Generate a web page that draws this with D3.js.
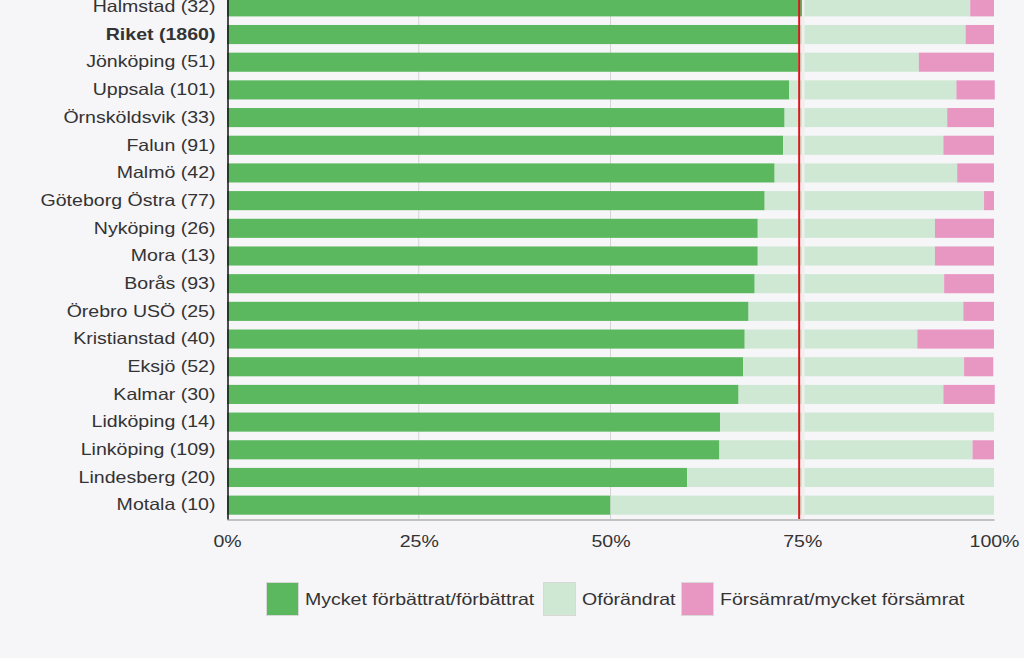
<!DOCTYPE html>
<html>
<head>
<meta charset="utf-8">
<script src="https://cdn.jsdelivr.net/npm/d3@7"></script>
<style>
  html, body { margin: 0; padding: 0; background: #f6f5f8; overflow: hidden; }
  svg { display: block; font-family: "Liberation Sans", Arial, sans-serif; }
</style>
</head>
<body>
<svg id="chart" width="1024" height="658"></svg>
<script>
const categories = ["Halmstad (32)", "Riket (1860)", "Jönköping (51)", "Uppsala (101)", "Örnsköldsvik (33)",
  "Falun (91)", "Malmö (42)", "Göteborg Östra (77)", "Nyköping (26)", "Mora (13)", "Borås (93)",
  "Örebro USÖ (25)", "Kristianstad (40)", "Eksjö (52)", "Kalmar (30)", "Lidköping (14)",
  "Linköping (109)", "Lindesberg (20)", "Motala (10)"];
const improved  = [75.0, 74.6, 74.5, 73.3, 72.7, 72.5, 71.4, 70.1, 69.2, 69.2, 68.8, 68.0, 67.5, 67.3, 66.7, 64.3, 64.2, 60.0, 50.0];
const unchanged = [21.9, 21.7, 15.7, 21.8, 21.2, 20.9, 23.8, 28.6, 23.1, 23.1, 24.7, 28.0, 22.5, 28.8, 26.7, 35.7, 33.0, 40.0, 50.0];
const worsened  = [3.1, 3.7, 9.8, 5.0, 6.1, 6.6, 4.8, 1.3, 7.7, 7.7, 6.5, 4.0, 10.0, 3.8, 6.7, 0.0, 2.8, 0.0, 0.0];
const seriesNames = ["Mycket förbättrat/förbättrat", "Oförändrat", "Försämrat/mycket försämrat"];
const seriesColors = ["#5cb85f", "#cfe8d4", "#e897c3"];
const boldCategory = "Riket (1860)";
const referenceValue = 74.6;
const tickValues = [0, 25, 50, 75, 100];

const FONT = 16.5, WIDEN = 1.185;
function widen(sel) {
  sel.each(function() {
    const len = this.getComputedTextLength();
    d3.select(this).attr("textLength", len * WIDEN).attr("lengthAdjust", "spacingAndGlyphs");
  });
}

const svg = d3.select("#chart");
const x = d3.scaleLinear().domain([0, 100]).range([227, 994]);
const y = d3.scaleBand().domain(categories).range([-7, 519]).paddingInner(0.31).paddingOuter(0.155);

const rows = categories.map((c, i) => ({ cat: c, v0: improved[i], v1: unchanged[i], v2: worsened[i] }));
const stack = d3.stack().keys(["v0", "v1", "v2"])(rows);

// gridlines behind bars
svg.append("g").selectAll("line").data(tickValues.filter(t => t > 0 && t < 100)).join("line")
  .attr("x1", d => x(d)).attr("x2", d => x(d))
  .attr("y1", 0).attr("y2", 519)
  .attr("stroke", "#d4d4d4").attr("stroke-width", 1);

svg.append("g").selectAll("g").data(stack).join("g")
  .attr("fill", (d, i) => seriesColors[i])
  .selectAll("rect").data(d => d).join("rect")
  .attr("x", d => x(d[0]))
  .attr("width", d => Math.max(0, x(d[1]) - x(d[0])))
  .attr("y", d => y(d.data.cat))
  .attr("height", y.bandwidth());

// light stripe at 75% gridline
svg.append("line")
  .attr("x1", x(75) + 1).attr("x2", x(75) + 1).attr("y1", 0).attr("y2", 519)
  .attr("stroke", "#eef0ee").attr("stroke-width", 2.5);

// reference line
svg.append("line")
  .attr("x1", x(referenceValue)).attr("x2", x(referenceValue)).attr("y1", 0).attr("y2", 519)
  .attr("stroke", "#e0141c").attr("stroke-width", 2);

// bottom axis
const xAxis = d3.axisBottom(x).tickValues(tickValues).tickFormat(d => d + "%").tickSize(0).tickPadding(16);
const gx = svg.append("g").attr("transform", "translate(0,519.5)").call(xAxis);
gx.select(".domain").attr("stroke", "#b0b0b0").attr("stroke-width", 1.5);
gx.selectAll("text").attr("font-size", FONT).attr("fill", "#333").attr("font-family", "Liberation Sans, Arial, sans-serif").call(widen);

// left axis
const yAxis = d3.axisLeft(y).tickSize(0).tickPadding(12);
const gy = svg.append("g").attr("transform", "translate(227.5,0)").call(yAxis);
gy.select(".domain").attr("stroke", "#111").attr("stroke-width", 1.5);
gy.selectAll("text").attr("font-size", FONT).attr("fill", "#333")
  .attr("font-family", "Liberation Sans, Arial, sans-serif")
  .attr("font-weight", d => d === boldCategory ? "bold" : "normal").call(widen);

// legend
const legendX = [266, 543, 681];
const lg = svg.append("g").selectAll("g").data(seriesNames).join("g")
  .attr("transform", (d, i) => `translate(${legendX[i]},582)`);
lg.append("rect").attr("x", 0.5).attr("y", 0.5).attr("width", 32).attr("height", 33)
  .attr("fill", (d, i) => seriesColors[i]).attr("stroke", "#d8d8d8").attr("stroke-width", 1);
lg.append("text").attr("x", 39).attr("y", 23).attr("font-size", FONT).attr("fill", "#333").text(d => d).call(widen);
</script>
</body>
</html>
